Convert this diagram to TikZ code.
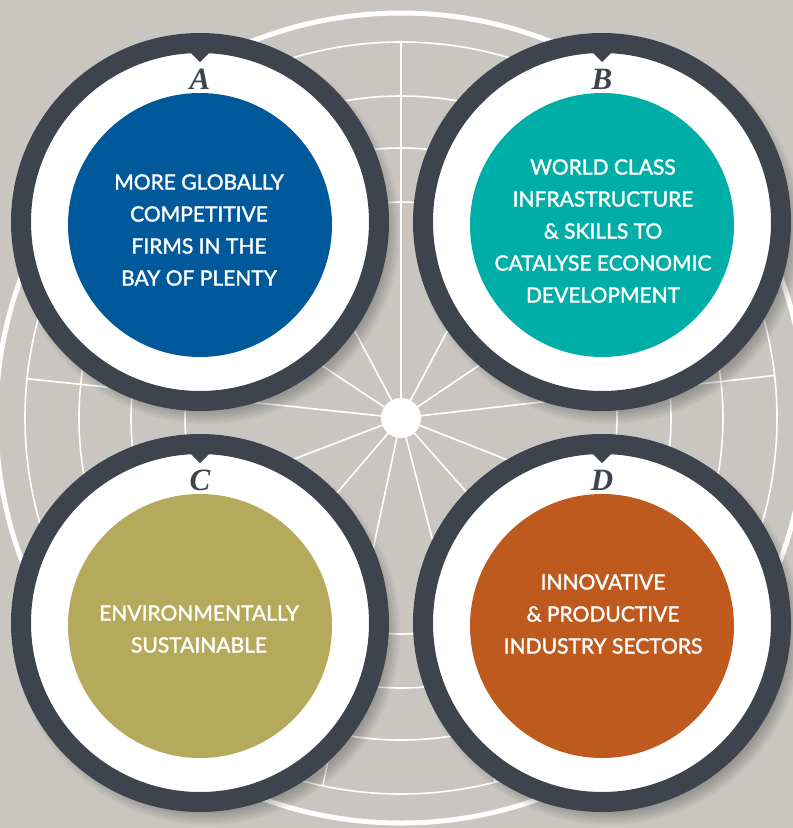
\documentclass[tikz,border=0pt]{standalone}
\usepackage{fontspec}
\setmainfont{Lato}
\newfontfamily\goalfont{Lato}[FakeBold=1.6]
\newfontfamily\letterfont{Liberation Serif}
\usetikzlibrary{positioning, calc}
\definecolor{bggray}{HTML}{C9C6C1}
\definecolor{ringdark}{HTML}{3E444E}
\definecolor{bopblue}{HTML}{00599A}
\definecolor{bopteal}{HTML}{00AEA8}
\definecolor{bopolive}{HTML}{B5AA5B}
\definecolor{boporange}{HTML}{BF5A1F}
\tikzset{
  % Outer badge: dark ring round a white disc
  badge/.style={
    circle, minimum size=358pt, inner sep=0pt,
    draw=ringdark, line width=20pt, fill=white,
  },
  % Coloured centre disc
  goal/.style={circle, minimum size=264pt, inner sep=0pt, fill=#1},
  goal/.default={bopblue},
  % Texts
  goaltext/.style={align=center, text=white, font=\goalfont\fontsize{21}{32}\selectfont},
  badgeletter/.style={
    font=\letterfont\bfseries\itshape\fontsize{31}{31}\selectfont,
    text=ringdark, inner sep=0pt,
  },
  % Wheel lines
  wheelring/.style={draw=white, line width=1.6pt},
  spoke/.style={draw=white, line width=1.6pt},
}

\begin{document}
\begin{tikzpicture}[x=1pt, y=-1pt]

  \clip (0,0) rectangle (793,828);
  \fill[bggray] (0,0) rectangle (793,828);

  % Wheel in the background
  \coordinate (hub) at (401,418);
  \foreach \r in {216,270,322,376}
    \draw[wheelring] (hub) circle[radius=\r];
  \draw[white, line width=5pt] (hub) circle[radius=405];
  \foreach \a in {-90,-62,-34,-6.5,21.5,48.5,75.5,102,130.5,159,-174,-146.5,-118}
    \draw[spoke] (hub) -- ++(\a:376);
  \node[circle, fill=white, minimum size=40pt, inner sep=0pt] (hubdisc) at (hub) {};

  % Badge centres
  \coordinate (cA) at (200,222);
  \coordinate (cB) at (602,222);
  \coordinate (cC) at (200,623);
  \coordinate (cD) at (602,623);

  % Soft shadows
  \foreach \b in {cA,cB,cC,cD}
    \foreach \k in {0,...,6}
      \fill[black, opacity=0.035] ($(\b)+(7,9)$) circle[radius=181+2*\k];

  % Badges
  \node[badge] (A) at (cA) {};
  \node[badge] (B) at (cB) {};
  \node[badge] (C) at (cC) {};
  \node[badge] (D) at (cD) {};

  % Notches at the top of each ring
  \foreach \b in {A,B,C,D}
    \fill[ringdark] ($(\b)+(-11,-171)$) -- ($(\b)+(0,-160)$) -- ($(\b)+(11,-171)$) -- cycle;

  % Coloured discs
  \node[goal=bopblue] (Adisc) at ($(A)+(0,3)$) {};
  \node[goal=bopteal] (Bdisc) at ($(B)+(0,3)$) {};
  \node[goal=bopolive] (Cdisc) at ($(C)+(0,3)$) {};
  \node[goal=boporange] (Ddisc) at ($(D)+(0,3)$) {};

  % Letters
  \node[badgeletter] (Aletter) at ($(A)+(0,-143)$) {A};
  \node[badgeletter] (Bletter) at ($(B)+(0,-143)$) {B};
  \node[badgeletter] (Cletter) at ($(C)+(0,-143)$) {C};
  \node[badgeletter] (Dletter) at ($(D)+(0,-143)$) {D};

  % Goal texts
  \node[goaltext] (Atext) at (199,230) {MORE GLOBALLY\\COMPETITIVE\\FIRMS IN THE\\BAY OF PLENTY};
  \node[goaltext] (Btext) at (603,231) {WORLD CLASS\\INFRASTRUCTURE\\\& SKILLS TO\\CATALYSE ECONOMIC\\DEVELOPMENT};
  \node[goaltext] (Ctext) at (199,629) {ENVIRONMENTALLY\\SUSTAINABLE};
  \node[goaltext] (Dtext) at (603,614) {INNOVATIVE\\\& PRODUCTIVE\\INDUSTRY SECTORS};

\end{tikzpicture}
\end{document}
